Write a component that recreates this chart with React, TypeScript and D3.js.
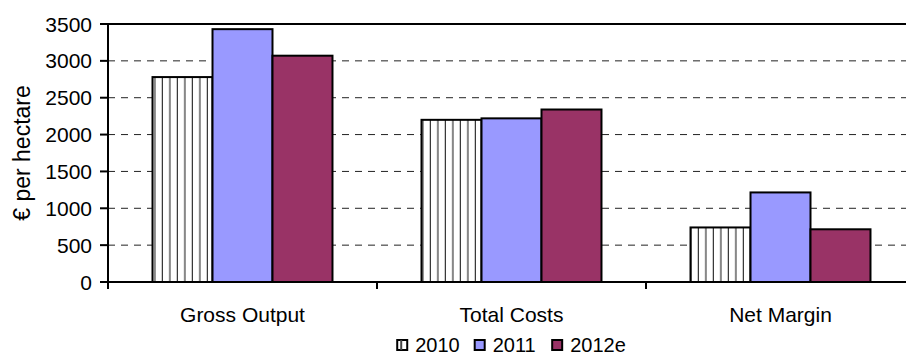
import React from "react";
import * as d3 from "d3";

// Per-hectare figures by category and year
const categories = ["Gross Output", "Total Costs", "Net Margin"];
const seriesNames = ["2010", "2011", "2012e"];
const values2010 = [2780, 2200, 740];
const values2011 = [3430, 2220, 1215];
const values2012e = [3070, 2340, 715];
const yTicks = [0, 500, 1000, 1500, 2000, 2500, 3000, 3500];

const seriesValues = [values2010, values2011, values2012e];
const fills = ["#fff", "#9999FF", "#993366"];

const W = 906;
const H = 354;
const left = 108;
const right = 915;
const top = 24;
const bottom = 282;
const FONT = "'Liberation Sans', Arial, sans-serif";

export default function App() {
  const x0 = d3.scaleBand<string>().domain(categories).range([left, right]).padding(0);
  const x1 = d3
    .scaleBand<string>()
    .domain(seriesNames)
    .range([0, x0.bandwidth()])
    .paddingInner(0)
    .paddingOuter(0.742);
  const y = d3.scaleLinear().domain([0, 3500]).range([bottom, top]);

  const stripeGap = 7.5;
  const boundaries = [...categories.map((c) => x0(c)!), right];
  const fontSize = 21;

  // legend layout, centred under the middle category
  const sw = 10;
  const legendFont = 20;
  const textW = (s: string) => s.length * 0.556 * legendFont;
  const swGap = 8;
  const itemGap = 15;
  const widths = seriesNames.map((s) => sw + swGap + textW(s));
  const total = d3.sum(widths) + itemGap * (seriesNames.length - 1);
  const legendStart = x0(categories[1])! + x0.bandwidth() / 2 - total / 2;
  const legendX: number[] = [];
  seriesNames.reduce((acc, _, i) => {
    legendX.push(acc);
    return acc + widths[i] + itemGap;
  }, legendStart);

  return (
    <svg
      width={W}
      height={H}
      style={{ position: "absolute", left: 0, top: 0, background: "#fff" }}
      fontFamily={FONT}
    >
      <defs>
        {categories.map((c, i) => (
          <pattern
            key={c}
            id={`stripes-${i}`}
            patternUnits="userSpaceOnUse"
            x={x0(c)! + x1("2010")!}
            y={0}
            width={stripeGap}
            height={10}
          >
            <rect width={stripeGap} height={10} fill="#fff" />
            <line x1={stripeGap - 0.5} x2={stripeGap - 0.5} y1={0} y2={10} stroke="#333" strokeWidth={1.4} />
          </pattern>
        ))}
      </defs>

      {/* dashed gridlines */}
      {yTicks
        .filter((t) => t > 0 && t < 3500)
        .map((t) => (
          <line
            key={t}
            x1={left}
            x2={right}
            y1={y(t)}
            y2={y(t)}
            stroke="#222"
            strokeWidth={1}
            strokeDasharray="7,6"
          />
        ))}
      {/* top border */}
      <line x1={left} x2={right} y1={top} y2={top} stroke="#000" strokeWidth={2} />

      {/* bars */}
      {categories.map((c, ci) => (
        <g key={c} transform={`translate(${x0(c)},0)`}>
          {seriesNames.map((s, si) => {
            const v = seriesValues[si][ci];
            return (
              <rect
                key={s}
                x={x1(s)}
                y={y(v)}
                width={x1.bandwidth()}
                height={y(0) - y(v)}
                fill={si === 0 ? `url(#stripes-${ci})` : fills[si]}
                stroke="#000"
                strokeWidth={2}
              />
            );
          })}
        </g>
      ))}

      {/* y axis */}
      <line x1={left} x2={left} y1={top - 1} y2={bottom + 1} stroke="#000" strokeWidth={2} />
      {yTicks.map((t) => (
        <g key={t}>
          <line x1={left - 8} x2={left} y1={y(t)} y2={y(t)} stroke="#000" strokeWidth={2} />
          <text
            x={left - 16}
            y={y(t)}
            dy="0.36em"
            textAnchor="end"
            fontSize={fontSize}
            fill="#000"
          >
            {t}
          </text>
        </g>
      ))}
      <text
        transform={`translate(30,${(top + bottom) / 2}) rotate(-90)`}
        textAnchor="middle"
        fontSize={23}
        fill="#000"
      >
        € per hectare
      </text>

      {/* x axis */}
      <line x1={left - 1} x2={right} y1={bottom} y2={bottom} stroke="#000" strokeWidth={2} />
      {boundaries.map((b, i) => (
        <line key={i} x1={b} x2={b} y1={bottom} y2={bottom + 7} stroke="#000" strokeWidth={2} />
      ))}
      {categories.map((c) => (
        <text
          key={c}
          x={x0(c)! + x0.bandwidth() / 2}
          y={321.5}
          textAnchor="middle"
          fontSize={fontSize}
          fill="#000"
        >
          {c}
        </text>
      ))}

      {/* legend */}
      {seriesNames.map((s, i) => (
        <g key={s} transform={`translate(${legendX[i]},0)`}>
          <rect
            x={0}
            y={340}
            width={sw}
            height={sw}
            fill={fills[i]}
            stroke="#000"
            strokeWidth={2}
          />
          {i === 0 && (
            <line x1={sw / 2 - 1} x2={sw / 2 - 1} y1={340} y2={340 + sw} stroke="#444" strokeWidth={2} />
          )}
          <text x={sw + swGap} y={351.5} fontSize={legendFont} fill="#000">
            {s}
          </text>
        </g>
      ))}
    </svg>
  );
}
